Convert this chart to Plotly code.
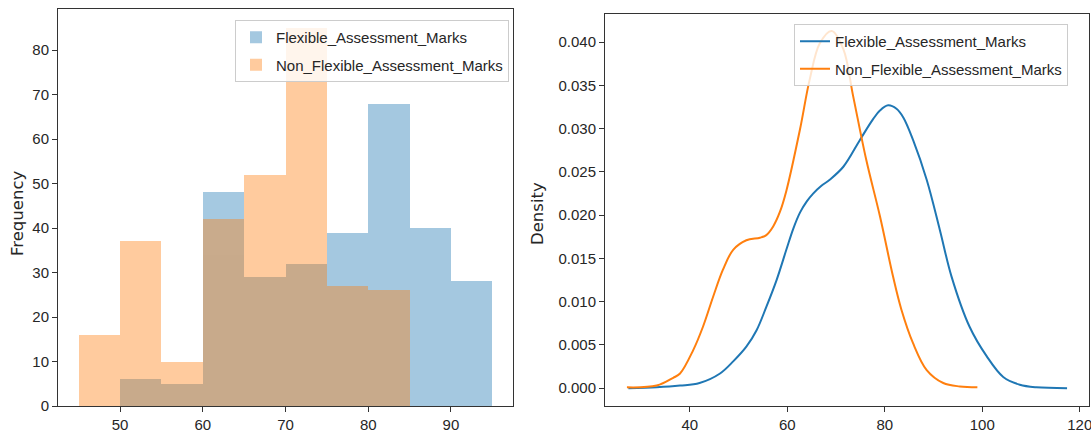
import plotly.graph_objects as go

# ---------------- data ----------------
bin_edges = [45, 50, 55, 60, 65, 70, 75, 80, 85, 90, 95]
flexible_counts = [0, 6, 5, 48, 29, 32, 39, 68, 40, 28]
non_flexible_counts = [16, 37, 10, 42, 52, 85, 27, 26, 0, 0]

kde_flex_x = [27.4, 33.2, 38.0, 42.0, 46.2, 48.9, 51.6, 53.7, 55.7, 57.8, 59.8, 61.2, 62.6,
              64.0, 65.3, 67.0, 68.7, 71.5, 74.9, 77.6, 79.0, 80.7, 82.4, 83.8, 85.8, 88.6,
              91.3, 93.7, 97.4, 100.9, 104.3, 107.7, 111.1, 117.4]
kde_flex_y = [0.0000, 0.0001, 0.0003, 0.0006, 0.0017, 0.0031, 0.0048, 0.0067, 0.0094, 0.0125,
              0.0160, 0.0184, 0.0203, 0.0216, 0.0225, 0.0234, 0.0241, 0.0256, 0.0287, 0.0311,
              0.0321, 0.0327, 0.0323, 0.0313, 0.0287, 0.0241, 0.0183, 0.0129, 0.0071, 0.0037,
              0.0013, 0.0004, 0.0001, 0.0000]

kde_nonflex_x = [27.1, 33.2, 36.6, 38.0, 40.7, 42.7, 44.8, 46.8, 48.9, 51.6, 54.4, 55.7, 57.1,
                 58.5, 59.8, 62.6, 64.6, 66.7, 69.1, 71.5, 73.5, 76.2, 79.0, 81.7, 83.4, 85.8,
                 88.6, 92.0, 95.4, 99.0]
kde_nonflex_y = [0.0001, 0.0003, 0.0012, 0.0017, 0.0044, 0.0071, 0.0106, 0.0137, 0.0160, 0.0171,
                 0.0174, 0.0177, 0.0187, 0.0204, 0.0228, 0.0299, 0.0357, 0.0399, 0.0413, 0.0392,
                 0.0338, 0.0264, 0.0199, 0.0129, 0.0091, 0.0052, 0.0021, 0.0006, 0.0002, 0.0001]

series_names = ["Flexible_Assessment_Marks", "Non_Flexible_Assessment_Marks"]
colors = ["#1f77b4", "#ff7f0e"]

hist_yticks = [0, 10, 20, 30, 40, 50, 60, 70, 80]
hist_xticks = [50, 60, 70, 80, 90]
kde_yticks = [0.000, 0.005, 0.010, 0.015, 0.020, 0.025, 0.030, 0.035, 0.040]
kde_xticks = [40, 60, 80, 100, 120]

# ---------------- figure ----------------
# The figure is made a little wider than the window so that the last tick label
# is drawn and then cut by the window edge, as in the reference.
W, H = 1110, 439
FONT = "Liberation Sans, Arial, sans-serif"
TXT = "#262626"

fig = go.Figure()

widths = [bin_edges[i + 1] - bin_edges[i] for i in range(len(bin_edges) - 1)]
for i, (name, counts, col) in enumerate([(series_names[0], flexible_counts, colors[0]),
                                         (series_names[1], non_flexible_counts, colors[1])]):
    fig.add_trace(go.Bar(x=bin_edges[:-1], y=counts, width=widths, offset=0,
                         marker=dict(color=col, line=dict(width=0)), opacity=0.4,
                         name=name, legend="legend", legendgroup=f"h{i}",
                         xaxis="x", yaxis="y"))

for i, (name, xs, ys, col) in enumerate([(series_names[0], kde_flex_x, kde_flex_y, colors[0]),
                                         (series_names[1], kde_nonflex_x, kde_nonflex_y, colors[1])]):
    fig.add_trace(go.Scatter(x=xs, y=ys, mode="lines", line_shape="spline",
                             line=dict(color=col, width=2, smoothing=1.0), name=name,
                             legend="legend2", legendgroup=f"k{i}",
                             xaxis="x2", yaxis="y2"))

axis_common = dict(showline=True, mirror=True, linecolor="#333333", linewidth=1,
                   ticks="outside", ticklen=5, tickwidth=1, tickcolor="#333333",
                   showgrid=False, zeroline=False, automargin=False,
                   ticklabeloverflow="allow",
                   tickfont=dict(family=FONT, size=15, color=TXT))

legend_common = dict(bgcolor="rgba(255,255,255,0.8)", bordercolor="#cccccc", borderwidth=1,
                     font=dict(family=FONT, size=15, color=TXT),
                     xanchor="left", yanchor="top", tracegroupgap=5, itemwidth=30,
                     traceorder="grouped")

fig.update_layout(
    template="none",
    width=W, height=H,
    margin=dict(l=0, r=0, t=0, b=0),
    paper_bgcolor="white", plot_bgcolor="white",
    barmode="overlay", bargap=0,
    showlegend=True,
    xaxis=dict(domain=[58 / W, 513 / W], range=[42.5, 97.5], tickvals=hist_xticks,
               anchor="y", **axis_common),
    yaxis=dict(domain=[33 / H, 430 / H], range=[0, 89.25], tickvals=hist_yticks,
               anchor="x", **axis_common),
    xaxis2=dict(domain=[605 / W, 1089 / W], range=[22.6, 121.9], tickvals=kde_xticks,
                anchor="y2", **axis_common),
    yaxis2=dict(domain=[33 / H, 425 / H], range=[-0.00206, 0.04326], tickvals=kde_yticks,
                tickformat=".3f", anchor="x2", **axis_common),
    legend=dict(x=235 / W, y=1 - 20 / H, **legend_common),
    legend2=dict(x=794 / W, y=1 - 24 / H, **legend_common),
    annotations=[
        dict(text="Frequency", x=18 / W, y=1 - 214 / H, xref="paper", yref="paper",
             showarrow=False, textangle=-90, xanchor="center", yanchor="middle",
             font=dict(family="DejaVu Sans", size=16.5, color=TXT)),
        dict(text="Density", x=538 / W, y=1 - 214 / H, xref="paper", yref="paper",
             showarrow=False, textangle=-90, xanchor="center", yanchor="middle",
             font=dict(family="DejaVu Sans", size=16.5, color=TXT)),
    ],
)

fig.write_html("out.html", config={"displayModeBar": False},
               post_script="document.body.style.margin='0';document.body.style.overflow='hidden';")
